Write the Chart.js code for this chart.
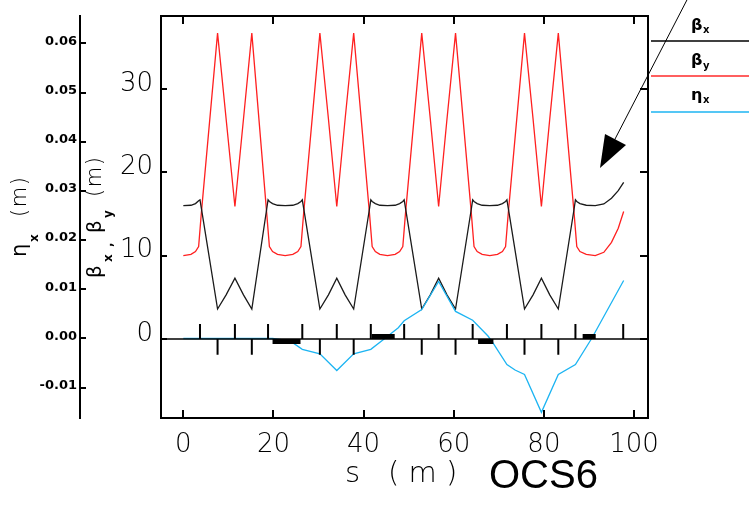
<!DOCTYPE html>
<html>
<head>
<meta charset="utf-8">
<script src="https://cdn.jsdelivr.net/npm/chart.js@4.4.0/dist/chart.umd.min.js"></script>
<style>
  html, body { margin: 0; padding: 0; background: #fff; }
  canvas { display: block; }
</style>
</head>
<body>
<canvas id="optics" width="749" height="505"></canvas>
<script>
// beta functions along s (m)
const sPos = [
  0.0, 1.7, 2.7, 3.4,
  3.7, 4.0, 7.6, 9.5, 11.45, 13.35, 15.2, 18.5, 18.8, 19.1,
  19.8, 20.9, 22.6, 24.3, 25.4, 26.1,
  26.4, 26.7, 30.3, 32.2, 34.05, 35.9, 37.8, 41.3, 41.6, 41.9,
  42.6, 43.6, 45.3, 47.0, 48.0, 48.7,
  49.0, 49.3, 52.9, 54.8, 56.65, 58.5, 60.4, 63.9, 64.2, 64.5,
  65.2, 66.3, 68.0, 69.7, 70.8, 71.5,
  71.8, 72.1, 75.7, 77.6, 79.45, 81.3, 83.2, 86.7, 87.0, 87.3,
  88.0, 89.4, 91.4, 93.3, 95.0, 96.5, 97.7
];
const betaX = [
  16.0, 16.05, 16.25, 16.6,
  16.7, 15.7, 3.6, 5.3, 7.3, 5.3, 3.6, 15.6, 16.7, 16.5,
  16.25, 16.05, 16.0, 16.05, 16.25, 16.5,
  16.7, 15.7, 3.6, 5.3, 7.3, 5.3, 3.6, 15.6, 16.7, 16.5,
  16.25, 16.05, 16.0, 16.05, 16.25, 16.5,
  16.7, 15.7, 3.6, 5.3, 7.3, 5.3, 3.6, 15.6, 16.7, 16.5,
  16.25, 16.05, 16.0, 16.05, 16.25, 16.5,
  16.7, 15.7, 3.6, 5.3, 7.3, 5.3, 3.6, 15.6, 16.7, 16.5,
  16.25, 16.05, 16.0, 16.2, 16.9, 17.8, 18.8
];
const betaY = [
  10.0, 10.15, 10.5, 11.1,
  13.1, 15.1, 36.7, 26.4, 15.9, 26.4, 36.7, 15.1, 13.1, 11.1,
  10.5, 10.15, 10.0, 10.15, 10.5, 11.1,
  13.1, 15.1, 36.7, 26.4, 15.9, 26.4, 36.7, 15.1, 13.1, 11.1,
  10.5, 10.15, 10.0, 10.15, 10.5, 11.1,
  13.1, 15.1, 36.7, 26.4, 15.9, 26.4, 36.7, 15.1, 13.1, 11.1,
  10.5, 10.15, 10.0, 10.15, 10.5, 11.1,
  13.1, 15.1, 36.7, 26.4, 15.9, 26.4, 36.7, 15.1, 13.1, 11.1,
  10.5, 10.15, 10.0, 10.4, 11.6, 13.3, 15.3
];

// horizontal dispersion
const sEta = [0.0, 19.8, 23.7, 26.4, 30.3, 34.05, 37.8, 41.6, 44.7, 47.7, 49.0,
  52.9, 56.65, 60.4, 64.2, 67.6, 68.7, 71.8, 73.6, 75.7, 79.45, 83.2, 87.0, 90.6, 97.7];
const etaX = [0.0, 0.0, -0.0005, -0.0022, -0.0031, -0.0065, -0.0031, -0.0022, 0.0, 0.0022, 0.0036,
  0.0059, 0.0116, 0.0055, 0.0037, 0.0005, -0.0009, -0.0053, -0.0064, -0.0073, -0.015, -0.0073, -0.0053, 0.0, 0.0118];

// lattice elements drawn on the zero line
const upMarks = [3.7, 11.45, 18.8, 26.4, 34.05, 41.6, 49.0, 56.65, 64.2, 71.8, 79.45, 87.0, 97.6];
const downMarks = [7.6, 15.2, 30.3, 37.8, 52.9, 60.4, 75.7, 83.2];
const bendStart = [19.8, 41.8, 65.4, 88.6];
const bendEnd = [26.0, 46.9, 68.8, 91.5];
const bendSide = [-1, 1, -1, 1];

// axis ticks
const sTicks = [0, 20, 40, 60, 80, 100];
const betaTicks = [0, 10, 20, 30];
const etaTicks = [-0.01, 0.0, 0.01, 0.02, 0.03, 0.04, 0.05, 0.06];

const S_MIN = -4.95, S_MAX = 103.1;
const BETA_MIN = -9.48, BETA_MAX = 38.76;
const ETA_MIN = -0.01616, ETA_MAX = 0.06555;
const MARK_UP = 1.8, MARK_DOWN = -1.9, BEND_Y = 0.3;

const THIN = '"DejaVu Sans ExtraLight", "DejaVu Sans", sans-serif';
const DJ = '"DejaVu Sans", sans-serif';

const toXY = (xs, ys) => xs.map((x, i) => ({ x: x, y: ys[i] }));

const upPts = [];
upMarks.forEach(s => upPts.push({ x: s, y: 0 }, { x: s, y: MARK_UP }, { x: s, y: null }));
const downPts = [];
downMarks.forEach(s => downPts.push({ x: s, y: 0 }, { x: s, y: MARK_DOWN }, { x: s, y: null }));
const bendPts = [];
bendStart.forEach((s, i) => bendPts.push(
  { x: s, y: bendSide[i] * BEND_Y }, { x: bendEnd[i], y: bendSide[i] * BEND_Y }, { x: s, y: null }));

function spaced(ctx, text, x, y, gap) {
  for (const ch of text) {
    ctx.fillText(ch, x, y);
    x += ctx.measureText(ch).width + gap;
  }
}

// rotated axis title built from pieces: [text, font, along, across, gap]
function rotatedTitle(ctx, x, y, parts) {
  ctx.save();
  ctx.translate(x, y);
  ctx.rotate(-Math.PI / 2);
  ctx.textAlign = 'left';
  ctx.textBaseline = 'alphabetic';
  parts.forEach(([t, f, u, v, gap]) => {
    ctx.font = f;
    spaced(ctx, t, u, v, gap || 0);
  });
  ctx.restore();
}

const decorations = {
  id: 'decorations',
  afterDraw(chart) {
    const { ctx, chartArea: a, scales } = chart;
    const sx = scales.x, sb = scales.beta, se = scales.eta;
    ctx.save();
    ctx.strokeStyle = '#000';
    ctx.fillStyle = '#000';
    ctx.lineWidth = 2;
    ctx.strokeRect(a.left, a.top, a.right - a.left, a.bottom - a.top);

    // inward tick marks
    ctx.beginPath();
    sx.ticks.forEach(t => {
      const px = Math.round(sx.getPixelForValue(t.value));
      ctx.moveTo(px, a.bottom); ctx.lineTo(px, a.bottom - 8);
      ctx.moveTo(px, a.top); ctx.lineTo(px, a.top + 8);
    });
    sb.ticks.forEach(t => {
      const py = Math.round(sb.getPixelForValue(t.value));
      ctx.moveTo(a.left, py); ctx.lineTo(a.left + 6, py);
      ctx.moveTo(a.right, py); ctx.lineTo(a.right - 8, py);
    });
    se.ticks.forEach(t => {
      const py = Math.round(se.getPixelForValue(t.value));
      ctx.moveTo(se.right, py); ctx.lineTo(se.right + 6, py);
    });
    ctx.stroke();

    // axis titles
    ctx.textAlign = 'left';
    ctx.textBaseline = 'alphabetic';
    ctx.font = '200 29px ' + THIN;
    spaced(ctx, 's (m)', 345, 482, 9.3);
    ctx.font = '40px "Liberation Sans", Arial, sans-serif';
    ctx.fillText('OCS6', 489, 488);

    rotatedTitle(ctx, 26, 257, [
      ['η', '21px ' + DJ, 0, 0],
      ['x', 'bold 12px ' + DJ, 15, 12],
      ['(m)', '200 21px ' + THIN, 40, 0, 1.5]
    ]);
    rotatedTitle(ctx, 101, 280, [
      ['β', '20px ' + DJ, 2, 0],
      ['x', 'bold 12px ' + DJ, 18, 11],
      [',', 'bold 12px ' + DJ, 33, 11],
      ['β', '20px ' + DJ, 47, 0],
      ['y', 'bold 12px ' + DJ, 62, 11],
      ['(m)', '200 21px ' + THIN, 83, 0, 1.5]
    ]);

    // legend at the right
    const legend = [
      ['#000000', 41, 'β', 'x', 30, 33],
      ['#ff2a2a', 76, 'β', 'y', 65, 69],
      ['#1cb4f2', 112, 'η', 'x', 100, 103]
    ];
    legend.forEach(([col, ly, sym, sub, by, sy]) => {
      ctx.strokeStyle = col;
      ctx.lineWidth = 1.5;
      ctx.beginPath();
      ctx.moveTo(651, ly); ctx.lineTo(749, ly);
      ctx.stroke();
      ctx.fillStyle = '#000';
      ctx.font = 'bold 16px ' + DJ;
      ctx.fillText(sym, 691, by);
      ctx.font = 'bold 10px ' + DJ;
      ctx.fillText(sub, 703, sy);
    });

    // pointer arrow
    ctx.strokeStyle = '#000';
    ctx.lineWidth = 1;
    ctx.beginPath();
    ctx.moveTo(689, -4); ctx.lineTo(614, 141);
    ctx.stroke();
    ctx.beginPath();
    ctx.moveTo(600, 168); ctx.lineTo(605, 134); ctx.lineTo(626, 145);
    ctx.closePath();
    ctx.fill();
    ctx.restore();
  }
};

new Chart(document.getElementById('optics'), {
  type: 'line',
  data: {
    datasets: [
      { data: upPts, yAxisID: 'beta', borderColor: '#000', borderWidth: 2, order: 0 },
      { data: downPts, yAxisID: 'beta', borderColor: '#000', borderWidth: 2, order: 0 },
      { data: bendPts, yAxisID: 'beta', borderColor: '#000', borderWidth: 5, borderCapStyle: 'butt', order: 0 },
      { data: [{ x: S_MIN, y: 0 }, { x: S_MAX, y: 0 }], yAxisID: 'beta', borderColor: '#000', borderWidth: 1.5, order: 0 },
      { label: 'eta_x', data: toXY(sEta, etaX), yAxisID: 'eta', borderColor: '#1cb4f2', borderWidth: 1.3, order: 1 },
      { label: 'beta_x', data: toXY(sPos, betaX), yAxisID: 'beta', borderColor: '#1a1a1a', borderWidth: 1.3, order: 2 },
      { label: 'beta_y', data: toXY(sPos, betaY), yAxisID: 'beta', borderColor: '#ff2020', borderWidth: 1.3, order: 2 }
    ]
  },
  options: {
    responsive: false,
    animation: false,
    devicePixelRatio: 1,
    layout: { padding: { left: 0, top: 16, right: 101, bottom: 0 } },
    plugins: { legend: { display: false }, tooltip: { enabled: false } },
    elements: { point: { radius: 0 }, line: { tension: 0 } },
    scales: {
      x: {
        type: 'linear', min: S_MIN, max: S_MAX,
        afterBuildTicks: s => { s.ticks = sTicks.map(v => ({ value: v })); },
        afterFit: s => { s.height = 87; s.paddingLeft = 0; s.paddingRight = 0; },
        grid: { display: false, drawTicks: false },
        border: { display: false },
        ticks: { autoSkip: false, maxRotation: 0, padding: 12, color: '#000',
          font: { family: THIN, size: 26, weight: 200 } }
      },
      beta: {
        type: 'linear', position: 'left', weight: 1, min: BETA_MIN, max: BETA_MAX,
        afterBuildTicks: s => { s.ticks = betaTicks.map(v => ({ value: v })); },
        afterFit: s => { s.width = 81; s.paddingTop = 0; s.paddingBottom = 0; },
        grid: { display: false, drawTicks: false },
        border: { display: false },
        ticks: { padding: 8, labelOffset: -5, color: '#000', callback: v => String(v),
          font: { family: THIN, size: 26, weight: 200 } }
      },
      eta: {
        type: 'linear', position: 'left', weight: 2, min: ETA_MIN, max: ETA_MAX,
        afterBuildTicks: s => { s.ticks = etaTicks.map(v => ({ value: v })); },
        afterFit: s => { s.width = 80; s.paddingTop = 0; s.paddingBottom = 0; },
        grid: { display: false, drawTicks: false },
        border: { display: true, width: 2, color: '#000' },
        ticks: { padding: 3, labelOffset: -2, color: '#000', callback: v => v.toFixed(2),
          font: { family: DJ, size: 13, weight: 'bold' } }
      }
    }
  },
  plugins: [decorations]
});
</script>
</body>
</html>
